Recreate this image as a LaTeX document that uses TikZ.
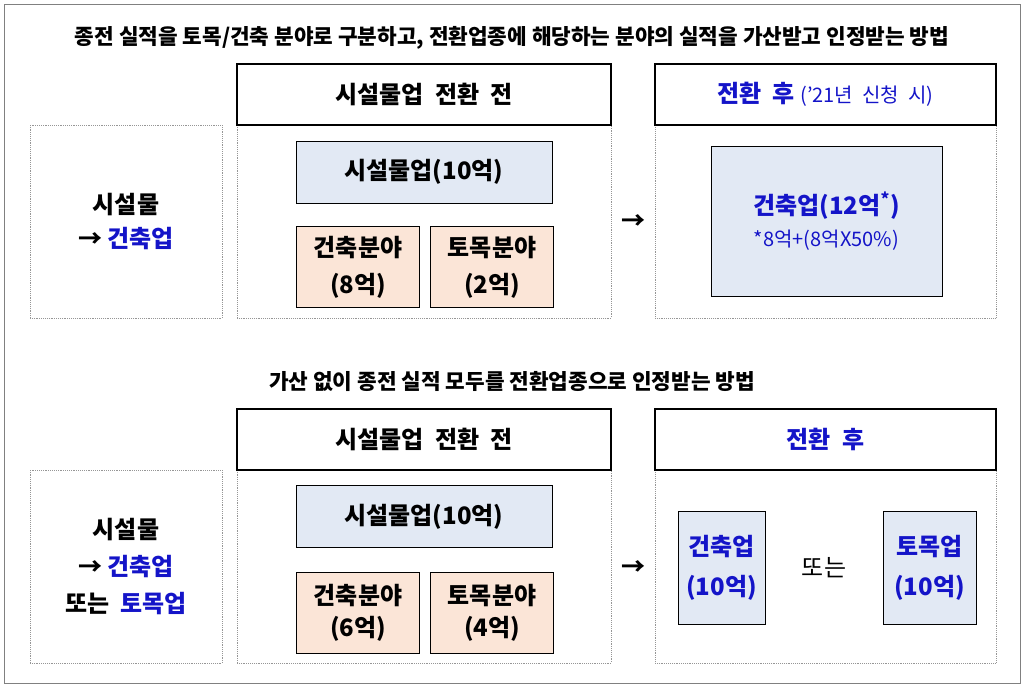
\documentclass[tikz,border=0pt]{standalone}
\usepackage{fontspec}
\setmainfont{Noto Sans CJK KR}
\usetikzlibrary{positioning}
\definecolor{hblue}{RGB}{20,20,200}
\definecolor{boxblue}{RGB}{226,233,244}
\definecolor{boxpeach}{RGB}{251,229,215}
\definecolor{dotgray}{RGB}{150,150,150}
\newcommand{\bigtxt}{\fontsize{18}{24}\selectfont\bfseries}
\newcommand{\subtxt}{\fontsize{15}{19}\selectfont\mdseries}

\begin{document}
\begin{tikzpicture}[x=0.75pt,y=-0.75pt,font=\bigtxt,
  head node/.style={rectangle,draw,thick,minimum width=280.5pt,minimum height=45.75pt},
  after node/.style={rectangle,draw,thick,minimum width=255.75pt,minimum height=45.75pt,text=hblue},
  frame node/.style={rectangle,draw=dotgray,densely dotted},
  total node/.style={rectangle,draw,fill=boxblue,minimum width=192pt,minimum height=46.5pt},
  part node/.style={rectangle,draw,fill=boxpeach,minimum width=92pt,minimum height=61pt,align=center},
  res node/.style={rectangle,draw,fill=boxblue,align=center,text=hblue},
  side node/.style={align=center}]

  \useasboundingbox (0,0) rectangle (1024,687);
  \draw[gray] (4,4) rectangle (1020,683);

  % first case
  \node[font=\fontsize{16}{20}\selectfont\bfseries] (T1) at (512,38) {종전 실적을 토목/건축 분야로 구분하고, 전환업종에 해당하는 분야의 실적을 가산받고 인정받는 방법};
  \node[frame node,minimum width=144pt,minimum height=144.75pt] (L1) at (126,221.5) {};
  \node[side node] at (L1) {시설물\\[2pt]→ \textcolor{hblue}{건축업}};
  \node[frame node,minimum width=280.5pt,minimum height=144.75pt] (B1) at (424,221.5) {};
  \node[head node] (H1) at (424,94.5) {시설물업\ \ 전환\ \ 전};
  \node[total node] (S1) at (424,172) {시설물업(10억)};
  \node[part node] (P1) at (358,267) {건축분야\\[4pt](8억)};
  \node[part node] (Q1) at (492,267) {토목분야\\[4pt](2억)};
  \node (A1) at (633,222) {→};
  \node[frame node,minimum width=255.75pt,minimum height=144.75pt] (R1) at (825.5,221.5) {};
  \node[after node] (G1) at (825.5,94.5) {전환\ \ 후 {\subtxt ('21년\ \ 신청\ \ 시)}};
  \node[res node,minimum width=173pt,minimum height=112.5pt] (C1) at (826.5,221) {건축업(12억\textsuperscript{*})\\{\subtxt *8억+(8억X50\%)}};

  % second case
  \node[font=\fontsize{16}{20}\selectfont\bfseries] (T2) at (512,381) {가산 없이 종전 실적 모두를 전환업종으로 인정받는 방법};
  \node[frame node,minimum width=144pt,minimum height=144.75pt] (L2) at (126,566.5) {};
  \node[side node] at (L2) {시설물\\[4pt]→ \textcolor{hblue}{건축업}\\[4pt]또는\ \ \textcolor{hblue}{토목업}};
  \node[frame node,minimum width=280.5pt,minimum height=144.75pt] (B2) at (424,566.5) {};
  \node[head node] (H2) at (424,439.5) {시설물업\ \ 전환\ \ 전};
  \node[total node] (S2) at (424,516.5) {시설물업(10억)};
  \node[part node] (P2) at (358,612.5) {건축분야\\(6억)};
  \node[part node] (Q2) at (492,612.5) {토목분야\\(4억)};
  \node (A2) at (633,568) {→};
  \node[frame node,minimum width=255.75pt,minimum height=144.75pt] (R2) at (825.5,566.5) {};
  \node[after node] (G2) at (825.5,439.5) {전환\ \ 후};
  \node[res node,minimum width=65pt,minimum height=84.75pt] (C2) at (721.5,567.5) {건축업\\[6pt](10억)};
  \node[font=\fontsize{18}{22}\selectfont\mdseries] (O2) at (824,568) {또는};
  \node[res node,minimum width=70pt,minimum height=84.75pt] (D2) at (929.5,567.5) {토목업\\[6pt](10억)};

\end{tikzpicture}
\end{document}
